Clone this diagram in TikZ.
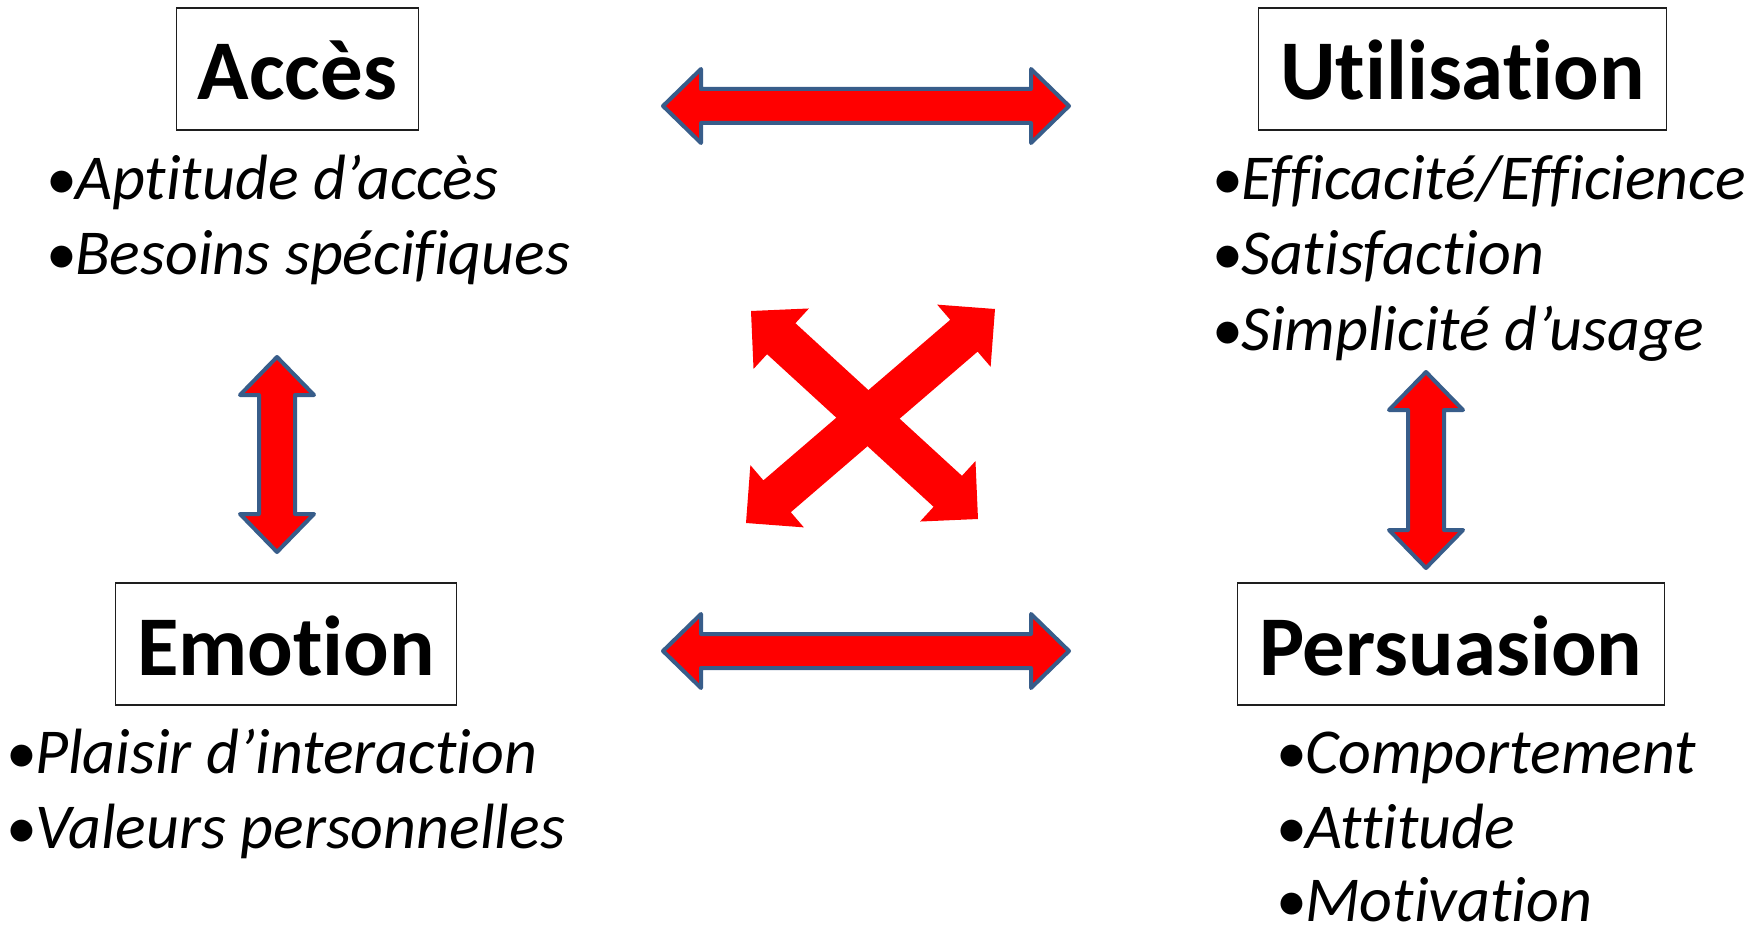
\documentclass[tikz,border=0pt]{standalone}
\usepackage{fontspec}
\setmainfont[Ligatures=NoCommon]{Carlito}
\usetikzlibrary{calc}
\definecolor{arrred}{RGB}{255,0,0}
\definecolor{arrblue}{RGB}{56,93,138}
\definecolor{boxline}{RGB}{30,30,30}

\newcommand\bul{{\upshape\fontsize{62}{64}\selectfont •}\kern-2pt}

% #1 style, #2 start, #3 end, #4 head length, #5 head half-width, #6 shaft half-width
\newcommand\blockarrow[6]{%
  \coordinate (#2#3p) at ($(#2)!#4!(#3)$);
  \coordinate (#2#3q) at ($(#3)!#4!(#2)$);
  \draw[#1] (#2)
    -- ($(#2#3p)!#5!90:(#3)$)
    -- ($(#2#3p)!#6!90:(#3)$)
    -- ($(#2#3q)!#6!-90:(#2)$)
    -- ($(#2#3q)!#5!-90:(#2)$)
    -- (#3)
    -- ($(#2#3q)!#5!90:(#2)$)
    -- ($(#2#3q)!#6!90:(#2)$)
    -- ($(#2#3p)!#6!-90:(#3)$)
    -- ($(#2#3p)!#5!-90:(#3)$)
    -- cycle;}

\tikzset{
  titlebox/.style={draw=boxline, line width=1.4pt,
    font=\fontsize{85}{100}\selectfont\bfseries,
    minimum height=122pt, text height=62pt, text depth=0pt,
    inner sep=0pt},
  bullet/.style={font=\fontsize{64}{75}\selectfont\itshape,
    anchor=base west, inner sep=0pt},
  outlined/.style={fill=arrred, draw=arrblue, line width=4pt, line join=round},
  plain/.style={fill=arrred, draw=none},
}

\begin{document}
\begin{tikzpicture}[x=1pt, y=-1pt]
  \useasboundingbox[fill=white] (0,0) rectangle (1762,928);

  % title boxes
  \node[titlebox, minimum width=242pt] (acces) at (297.5,69) {Accès};
  \node[titlebox, minimum width=408pt] (util) at (1462.5,69) {Utilisation};
  \node[titlebox, minimum width=341pt] (emo) at (286,644) {Emotion};
  \node[titlebox, minimum width=427pt] (pers) at (1450.7,644) {Persuasion};

  % bullet lists
  \node[bullet] (a1) at (46,200) {\bul Aptitude d’accès};
  \node[bullet] (a2) at (46,275) {\bul Besoins spécifiques};

  \node[bullet] (u1) at (1212,200) {\bul Efficacité/Efficience};
  \node[bullet] (u2) at (1212,275) {\bul Satisfaction};
  \node[bullet] (u3) at (1212,350) {\bul Simplicité d’usage};

  \node[bullet] (e1) at (6,773) {\bul Plaisir d’interaction};
  \node[bullet] (e2) at (6,848) {\bul Valeurs personnelles};

  \node[bullet] (p1) at (1276,773) {\bul Comportement};
  \node[bullet] (p2) at (1276,848) {\bul Attitude};
  \node[bullet] (p3) at (1276,921) {\bul Motivation};

  % arrow end points
  \coordinate (h1a) at (663,106);  \coordinate (h1b) at (1069,106);
  \coordinate (h2a) at (663,651);  \coordinate (h2b) at (1069,651);
  \coordinate (v1a) at (277,357);  \coordinate (v1b) at (277,552);
  \coordinate (v2a) at (1426,372); \coordinate (v2b) at (1426,568);
  \coordinate (xa) at (751,311);   \coordinate (xb) at (978,519);
  \coordinate (ya) at (746,523);   \coordinate (yb) at (995,309);

  \blockarrow{outlined}{h1a}{h1b}{38pt}{37pt}{17pt}
  \blockarrow{outlined}{h2a}{h2b}{38pt}{37pt}{17pt}
  \blockarrow{outlined}{v1a}{v1b}{38pt}{37pt}{18pt}
  \blockarrow{outlined}{v2a}{v2b}{38pt}{37pt}{18pt}
  \blockarrow{plain}{xa}{xb}{41pt}{41pt}{21pt}
  \blockarrow{plain}{ya}{yb}{41pt}{41pt}{21pt}
\end{tikzpicture}
\end{document}
